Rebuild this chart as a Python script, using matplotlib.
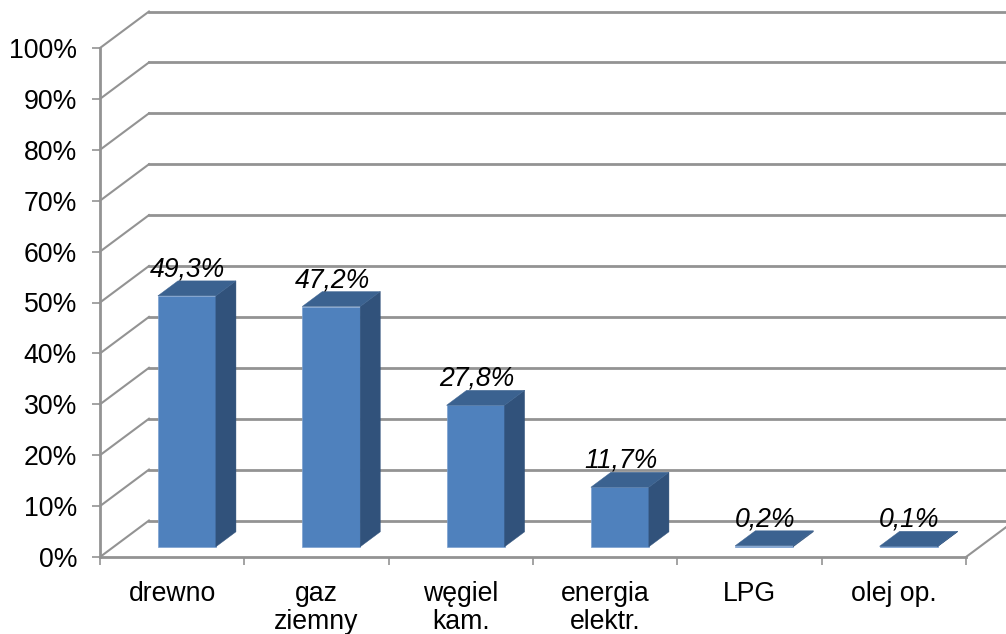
import matplotlib
matplotlib.use("Agg")
import matplotlib.pyplot as plt
from matplotlib.patches import Polygon

categories = ["drewno", "gaz\nziemny", "węgiel\nkam.", "energia\nelektr.", "LPG", "olej op."]
values = [49.3, 47.2, 27.8, 11.7, 0.2, 0.1]
labels = ["49,3%", "47,2%", "27,8%", "11,7%", "0,2%", "0,1%"]
y_ticks = list(range(0, 101, 10))

W, H = 1006, 634
L, R, T, B = 100, 966, 48, 557
plt.rcParams["font.family"] = ["Liberation Sans", "DejaVu Sans"]

fig = plt.figure(figsize=(W / 100, H / 100), dpi=100)
ax = fig.add_axes([L / W, 1 - B / H, (R - L) / W, (B - T) / H])
ax.set_xlim(0, len(categories))
ax.set_ylim(0, 100)

px_x = (R - L) / len(categories)
px_y = (B - T) / 100
DX = 49 / px_x          # full depth of the chart, in x units
DY = 36.5 / px_y        # full depth of the chart, in y units
GRID = "#939393"
FRONT, SIDE, TOP = "#4F81BD", "#31527B", "#3B6290"
EDGE = "#7BA0CF"
BAR_W = 58 / px_x
D0, D1 = 0.28, 0.69
FS = 19.2


def proj(x, y, d):
    return x + d * DX, y + d * DY


for v in y_ticks:
    x0, y0 = proj(0, v, 1)
    x2 = len(categories) + DX
    ax.plot([0, x0], [v, y0], color=GRID, lw=1.5, clip_on=False, zorder=1)
    ax.plot([x0, x2], [y0, y0], color=GRID, lw=2.0, clip_on=False, zorder=1)
ax.plot([len(categories), len(categories) + DX], [0, DY], color=GRID, lw=1.5,
        clip_on=False, zorder=1)

for i, (v, lab) in enumerate(zip(values, labels)):
    cx = i + 0.5 + 0.3 * DX
    xl, xr = cx - BAR_W / 2, cx + BAR_W / 2
    y0 = D0 * DY
    ax.bar(cx, v, BAR_W, bottom=y0, color=FRONT, edgecolor=EDGE, linewidth=0.5,
           clip_on=False, zorder=3)
    side = [proj(xr, 0, D0), proj(xr, 0, D1), proj(xr, v, D1), proj(xr, v, D0)]
    top = [proj(xl, v, D0), proj(xl, v, D1), proj(xr, v, D1), proj(xr, v, D0)]
    side = [(a - D0 * DX, b) for a, b in side]
    top = [(a - D0 * DX, b) for a, b in top]
    ax.add_patch(Polygon(side, fc=SIDE, ec=SIDE, lw=0.3, clip_on=False, zorder=3))
    ax.add_patch(Polygon(top, fc=TOP, ec=TOP, lw=0.3, clip_on=False, zorder=3))
    ax.annotate(lab, (cx, v + y0), xytext=(0.7, 26.5 * 0.72), textcoords="offset points",
                ha="center", va="center", fontsize=FS, style="italic",
                color="black", zorder=5, annotation_clip=False)

for s in ["top", "right"]:
    ax.spines[s].set_visible(False)
for s in ["left", "bottom"]:
    ax.spines[s].set_color(GRID)
    ax.spines[s].set_linewidth(2.0)

ax.set_yticks(y_ticks)
ax.set_yticklabels([f"{v}%" for v in y_ticks], fontsize=FS, color="black")
ax.set_xticks(range(len(categories) + 1))
ax.set_xticklabels([""] * (len(categories) + 1))
ax.tick_params(axis="both", length=6, width=1.2, color=GRID)
ax.tick_params(axis="y", pad=10.5)
for i, c in enumerate(categories):
    ax.annotate(c, (i + 0.5, 0), xytext=(0, -17), textcoords="offset points",
                ha="center", va="top", fontsize=FS, color="black",
                linespacing=1.13, annotation_clip=False)
ax.set_facecolor("white")
fig.savefig("out.png", dpi=100)
